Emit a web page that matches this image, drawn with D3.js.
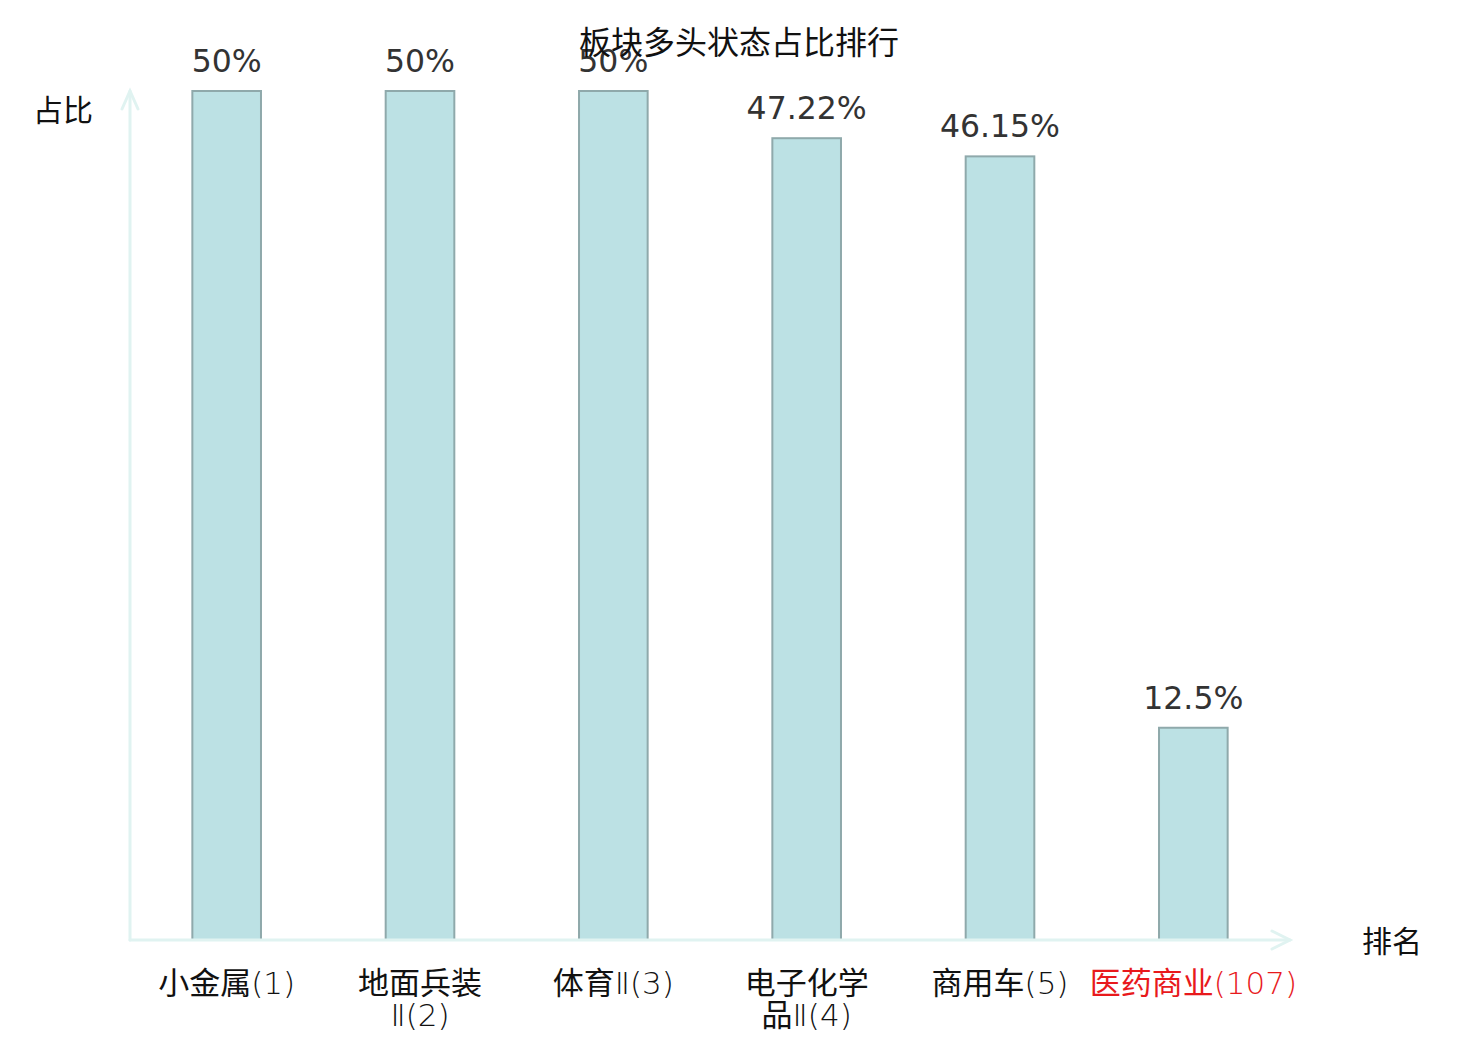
<!DOCTYPE html>
<html>
<head>
<meta charset="utf-8">
<script src="https://cdn.jsdelivr.net/npm/d3@7"></script>
<style>
  html, body { margin: 0; padding: 0; background: #fff; }
  svg { display: block; }
</style>
</head>
<body>
<div id="chart"></div>
<script>
// data
var names = ['小金属', '地面兵装Ⅱ', '体育Ⅱ', '电子化学品Ⅱ', '商用车', '医药商业'];
var ranks = [1, 2, 3, 4, 5, 107];
var shares = [50, 50, 50, 47.22, 46.15, 12.5];
var highlight = [false, false, false, false, false, true];

var title = '板块多头状态占比排行';
var yName = '占比';
var xName = '排名';

var _width = 1480,
    _height = 1040,
    _left = 130,
    _right = 1290,
    _top = 91,
    _bottom = 940,
    _axisColor = '#e0f3f1',
    _cjkFont = '"Noto Sans CJK SC", "Noto Sans", sans-serif',
    _thinFont = '"DejaVu Sans", "Noto Sans CJK SC", sans-serif',
    _numFont = '"DejaVu Sans", sans-serif';

var svg = d3.select('#chart').append('svg')
    .attr('width', _width)
    .attr('height', _height);

var x = d3.scaleBand()
    .domain(d3.range(names.length))
    .range([_left, _right])
    .paddingInner(0.645)
    .paddingOuter(0.3225);

var y = d3.scaleLinear()
    .domain([0, d3.max(shares)])
    .range([_bottom, _top]);

// BARS
// ----------------------------------------------------------------
svg.append('g').selectAll('rect')
    .data(shares)
    .enter().append('rect')
    .attr('x', function (d, i) { return x(i); })
    .attr('y', function (d) { return y(d); })
    .attr('width', x.bandwidth())
    .attr('height', function (d) { return y(0) - y(d); })
    .attr('fill', '#bce1e4')
    .attr('stroke', '#8fa9ab')
    .attr('stroke-width', 2);

// AXES
// ----------------------------------------------------------------
var gAxis = svg.append('g')
    .attr('fill', 'none')
    .attr('stroke', _axisColor)
    .attr('stroke-width', 3)
    .attr('stroke-linecap', 'round');

gAxis.append('line')
    .attr('x1', _left).attr('y1', _bottom)
    .attr('x2', _left).attr('y2', _top);
gAxis.append('path')
    .attr('d', 'M' + (_left - 8) + ',' + (_top + 18) + 'L' + _left + ',' + _top + 'L' + (_left + 8) + ',' + (_top + 18));

gAxis.append('line')
    .attr('x1', _left).attr('y1', _bottom)
    .attr('x2', _right).attr('y2', _bottom);
gAxis.append('path')
    .attr('d', 'M' + (_right - 18) + ',' + (_bottom - 9) + 'L' + _right + ',' + _bottom + 'L' + (_right - 18) + ',' + (_bottom + 9));

// CATEGORY LABELS
// ----------------------------------------------------------------
// 4 chars per line, rank appended to the last line
var splitName = function (name, rank) {
    var lines = [];
    for (var k = 0; k < name.length; k += 4) {
        lines.push(name.slice(k, k + 4));
    }
    lines[lines.length - 1] += '(' + rank + ')';
    return lines;
};

// cjk runs regular, the rest thin
var splitRuns = function (line) {
    return line.match(/[\u4e00-\u9fff]+|[^\u4e00-\u9fff]+/g);
};

var gLabels = svg.append('g')
    .attr('font-size', 31)
    .attr('text-anchor', 'middle');

names.forEach(function (name, i) {
    var cx = x(i) + x.bandwidth() / 2;
    splitName(name, ranks[i]).forEach(function (line, j) {
        var t = gLabels.append('text')
            .attr('x', cx)
            .attr('y', 994 + j * 32)
            .attr('fill', highlight[i] ? '#e8191c' : '#111');
        splitRuns(line).forEach(function (run) {
            var cjk = /[\u4e00-\u9fff]/.test(run);
            t.append('tspan')
                .attr('font-family', cjk ? _cjkFont : _thinFont)
                .attr('font-weight', cjk ? 400 : 200)
                .text(run);
        });
    });
});

// VALUE LABELS
// ----------------------------------------------------------------
svg.append('g')
    .attr('font-family', _numFont)
    .attr('font-size', 31.5)
    .attr('fill', '#333')
    .attr('text-anchor', 'middle')
    .selectAll('text')
    .data(shares)
    .enter().append('text')
    .attr('x', function (d, i) { return x(i) + x.bandwidth() / 2; })
    .attr('y', function (d) { return y(d) - 19; })
    .text(function (d) { return d + '%'; });

// AXIS NAMES / TITLE
// ----------------------------------------------------------------
svg.append('text')
    .attr('x', 63).attr('y', 121)
    .attr('font-family', _cjkFont).attr('font-size', 30)
    .attr('text-anchor', 'middle').attr('fill', '#111')
    .text(yName);

svg.append('text')
    .attr('x', 1392).attr('y', 952)
    .attr('font-family', _cjkFont).attr('font-size', 30)
    .attr('text-anchor', 'middle').attr('fill', '#111')
    .text(xName);

svg.append('text')
    .attr('x', 739).attr('y', 54)
    .attr('font-family', _cjkFont).attr('font-size', 32)
    .attr('text-anchor', 'middle').attr('fill', '#111')
    .text(title);
</script>
</body>
</html>
